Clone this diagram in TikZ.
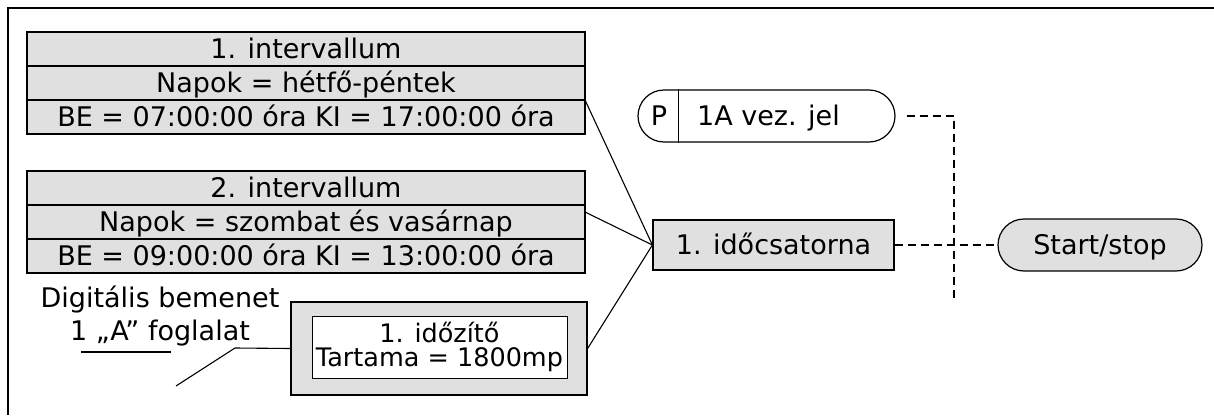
\documentclass[tikz,border=0pt]{standalone}
\usepackage{fontspec}
\setmainfont{DejaVu Sans}
\usetikzlibrary{positioning,calc}
\definecolor{boxgray}{gray}{0.88}

\begin{document}
\begin{tikzpicture}[x=1pt,y=-1pt,
  font=\fontsize{27}{31}\selectfont,
  onerow/.style={text height=19.5pt,text depth=0pt},
  row/.style={draw,fill=boxgray,line width=1.2pt,minimum width=558pt,minimum height=34pt,inner sep=0pt,outer sep=0pt,onerow},
  pill/.style={draw,line width=1.2pt,rounded corners=26pt,minimum height=52pt,inner sep=0pt,onerow},
  link/.style={line width=1.1pt},
  dashlink/.style={line width=1.1pt,dash pattern=on 8pt off 5pt}]
\useasboundingbox (0,0) rectangle (1214,415);
\draw[line width=1.5pt] (1214,8) -- (8,8) -- (8,415);

% intervals
\node[row] (iv1a) at (306,49) {1. intervallum};
\node[row,below=0pt of iv1a] (iv1b) {Napok = hétfő-péntek};
\node[row,below=0pt of iv1b] (iv1c) {BE = 07:00:00 óra KI = 17:00:00 óra};

\node[row] (iv2a) at (306,188) {2. intervallum};
\node[row,below=0pt of iv2a] (iv2b) {Napok = szombat és vasárnap};
\node[row,below=0pt of iv2b] (iv2c) {BE = 09:00:00 óra KI = 13:00:00 óra};

% timer
\node[draw,fill=boxgray,line width=1.2pt,minimum width=296pt,minimum height=93pt] (tmr) at (439,348.5) {};
\node[draw,fill=white,line width=1pt,minimum width=255pt,minimum height=62pt,inner sep=0pt,align=center,font=\fontsize{25.5}{23.5}\selectfont] (tmrin) at (439.5,347) {1. időzítő\\Tartama = 1800mp};

\node[align=center,font=\fontsize{27}{33}\selectfont] (dig) at (160,316) {Digitális bemenet\\1 „A” foglalat};
\draw[link] (81,352) -- (171,352);
\coordinate (lead) at (176,386);
\draw[link] (lead) -- ++(59,-38) -- (tmr.west);

% channel
\node[draw,fill=boxgray,line width=1.2pt,minimum width=241pt,minimum height=50pt,onerow] (ch) at (773.5,245) {1. időcsatorna};

\draw[link] (iv1b.south east) -- (ch.west);
\draw[link] ([yshift=10pt]iv2b.east) -- (ch.west);
\draw[link] (tmr.east) -- (ch.west);

% signal and output
\node[pill,minimum width=257pt] (sig) at (766.5,116) {};
\draw[line width=1pt] ([xshift=41pt]sig.north west) -- ([xshift=41pt]sig.south west);
\node[onerow] (sigp) at (659,116) {P};
\node[anchor=base west,inner sep=0pt] (sigtxt) at (697,125.5) {1A vez. jel};

\node[pill,fill=boxgray,minimum width=204pt] (ss) at (1100,245) {Start/stop};

\coordinate (jn) at (954,116);
\coordinate (jnend) at (954,302);
\draw[dashlink,shorten <=11pt] (sig.east) -- (jn) -- (jnend);
\draw[dashlink] (ch.east) -- (ss.west);
\end{tikzpicture}
\end{document}
